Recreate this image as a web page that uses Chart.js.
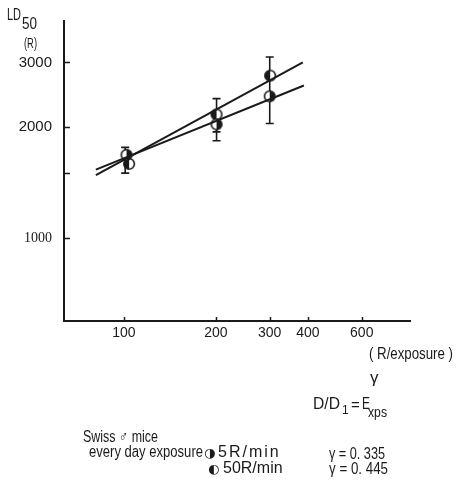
<!DOCTYPE html>
<html>
<head>
<meta charset="utf-8">
<script src="https://cdn.jsdelivr.net/npm/chart.js@4.4.1/dist/chart.umd.min.js"></script>
<style>
  html, body { margin: 0; padding: 0; background: #fff; }
  #wrap { position: relative; width: 460px; height: 487px; overflow: hidden; }
  #plot { position: absolute; left: 0; top: 0; }
  .t { position: absolute; white-space: nowrap; line-height: 1; color: #1a1a1a;
       font-family: "Liberation Sans", Arial, sans-serif; transform-origin: 0 0; }
  .sym { font-family: "DejaVu Sans", sans-serif; }
</style>
</head>
<body>
<div id="wrap">
  <canvas id="plot" width="460" height="487"></canvas>

  <!-- data-w: width the label is squeezed to -->
  <div class="t" data-w="14" style="left:7px; top:7px; font-size:16px;">LD</div>
  <div class="t" data-w="15" style="left:22px; top:16px; font-size:16px;">50</div>
  <div class="t" data-w="13" style="left:24px; top:36px; font-size:14px;">(R)</div>

  <div class="t" data-w="84" style="left:369px; top:346px; font-size:16px;">( R/exposure )</div>

  <div class="t" data-w="27" style="left:313px; top:396px; font-size:16px;">D/D</div>
  <div class="t" style="left:342px; top:404px; font-size:12px;">1</div>
  <div class="t" style="left:351px; top:397px; font-size:15px;">=</div>
  <div class="t" data-w="8" style="left:362px; top:396px; font-size:16px;">E</div>
  <div class="t" style="left:370px; top:369px; font-size:17px;">γ</div>
  <div class="t" data-w="19" style="left:368px; top:404px; font-size:15px;">xps</div>

  <div class="t" data-w="75" style="left:83px; top:429px; font-size:16px;">Swiss ♂ mice</div>
  <div class="t" data-w="114" style="left:89px; top:444px; font-size:16px;">every day exposure</div>
  <div class="t sym" style="left:204px; top:446px; font-size:13px;">◑</div>
  <div class="t" style="left:218px; top:444px; font-size:16px; letter-spacing:2px;">5R/min</div>
  <div class="t sym" style="left:208px; top:462px; font-size:13px;">◐</div>
  <div class="t" style="left:223px; top:460px; font-size:16px;">50R/min</div>

  <div class="t" data-w="56" style="left:329px; top:446px; font-size:16px;">γ = 0. 335</div>
  <div class="t" data-w="59" style="left:329px; top:461px; font-size:16px;">γ =  0. 445</div>
</div>

<script>
// axis ticks
const xTicks = [100, 200, 300, 400, 600];
const xLabels = ['100', '200', '300', '400', '600'];
const yTicks = [1000, 1500, 2000, 3000];
const yLabels = ['1000', '', '2000', '3000'];

// LD50 (R) for each dose per exposure
const dose5 = [102, 201, 300];
const ld5 = [1683, 2037, 2428];
const dose50 = [104, 201, 301];
const ld50 = [1591, 2167, 2763];

// fitted lines D/D1 = E^γ, end points
const fit5X = [81, 388];
const fit5Y = [1534, 2598];
const fit50X = [81, 385];
const fit50Y = [1482, 3000];

// error bars
const errX = [101, 201, 201, 300];
const errLow = [1501, 1943, 1839, 2047];
const errHigh = [1764, 2392, 2037, 3104];

const INK = '#1a1a1a';
const SANS = '"Liberation Sans", Arial, sans-serif';

// narrow the typed labels
document.querySelectorAll('.t[data-w]').forEach(el => {
  const w = el.getBoundingClientRect().width;
  el.style.transform = 'scaleX(' + (+el.dataset.w / w) + ')';
});

// half filled circle markers
function halfCircle(side) {
  const c = document.createElement('canvas');
  c.width = 14; c.height = 14;
  const g = c.getContext('2d');
  g.fillStyle = '#fff';
  g.beginPath(); g.arc(7, 7, 5.3, 0, Math.PI * 2); g.fill();
  g.fillStyle = INK;
  g.beginPath();
  if (side === 'right') g.arc(7, 7, 5.3, -Math.PI / 2, Math.PI / 2);
  else g.arc(7, 7, 5.3, Math.PI / 2, Math.PI * 1.5);
  g.closePath(); g.fill();
  g.strokeStyle = INK; g.lineWidth = 1.6;
  g.beginPath(); g.arc(7, 7, 5.3, 0, Math.PI * 2); g.stroke();
  return c;
}

const pts = (xs, ys) => xs.map((x, i) => ({ x: x, y: ys[i] }));

const errorBars = {
  id: 'errorBars',
  beforeDatasetsDraw(chart) {
    const { ctx, scales: { x, y } } = chart;
    ctx.save();
    ctx.strokeStyle = INK;
    ctx.lineWidth = 1.6;
    errX.forEach((v, i) => {
      const px = x.getPixelForValue(v);
      const top = y.getPixelForValue(errHigh[i]);
      const bot = y.getPixelForValue(errLow[i]);
      ctx.beginPath();
      ctx.moveTo(px, top); ctx.lineTo(px, bot);
      ctx.moveTo(px - 4, top); ctx.lineTo(px + 4, top);
      ctx.moveTo(px - 4, bot); ctx.lineTo(px + 4, bot);
      ctx.stroke();
    });
    ctx.restore();
  }
};

// tick marks point into the plot
const innerTicks = {
  id: 'innerTicks',
  afterDraw(chart) {
    const { ctx, chartArea, scales: { x, y } } = chart;
    ctx.save();
    ctx.strokeStyle = INK;
    ctx.lineWidth = 1.5;
    ctx.beginPath();
    yTicks.forEach(v => {
      const py = Math.round(y.getPixelForValue(v)) + 0.5;
      ctx.moveTo(chartArea.left, py); ctx.lineTo(chartArea.left + 6, py);
    });
    xTicks.forEach(v => {
      const px = Math.round(x.getPixelForValue(v)) + 0.5;
      ctx.moveTo(px, chartArea.bottom); ctx.lineTo(px, chartArea.bottom - 4);
    });
    ctx.stroke();
    ctx.restore();
  }
};

new Chart(document.getElementById('plot'), {
  type: 'line',
  data: {
    datasets: [
      { label: '5R/min fit', data: pts(fit5X, fit5Y), borderColor: INK, borderWidth: 2, pointRadius: 0 },
      { label: '50R/min fit', data: pts(fit50X, fit50Y), borderColor: INK, borderWidth: 2, pointRadius: 0 },
      { label: '5R/min', data: pts(dose5, ld5), showLine: false, pointStyle: halfCircle('right') },
      { label: '50R/min', data: pts(dose50, ld50), showLine: false, pointStyle: halfCircle('left') }
    ]
  },
  options: {
    responsive: false,
    animation: false,
    devicePixelRatio: 1,
    layout: { padding: { left: 0, top: 17, right: 50, bottom: 0 } },
    plugins: { legend: { display: false }, tooltip: { enabled: false } },
    scales: {
      x: {
        type: 'logarithmic',
        min: 63.7,
        max: 863,
        afterFit: s => { s.height = 166; },
        afterBuildTicks: s => { s.ticks = xTicks.map(v => ({ value: v })); },
        grid: { display: false, drawTicks: false },
        border: { color: INK, width: 2 },
        ticks: {
          autoSkip: false,
          maxRotation: 0,
          padding: 4,
          color: INK,
          font: { family: SANS, size: 14 },
          callback: (v, i) => xLabels[i]
        }
      },
      y: {
        type: 'logarithmic',
        min: 595,
        max: 3889,
        afterFit: s => { s.width = 64; },
        afterBuildTicks: s => { s.ticks = yTicks.map(v => ({ value: v })); },
        grid: { display: false, drawTicks: false },
        border: { color: INK, width: 2 },
        ticks: {
          autoSkip: false,
          padding: 12,
          color: INK,
          font: ctx => ctx.tick && ctx.tick.value === 1000
            ? { family: '"Liberation Serif", serif', size: 14 }
            : { family: SANS, size: 15 },
          callback: (v, i) => yLabels[i]
        }
      }
    }
  },
  plugins: [errorBars, innerTicks]
});
</script>
</body>
</html>
